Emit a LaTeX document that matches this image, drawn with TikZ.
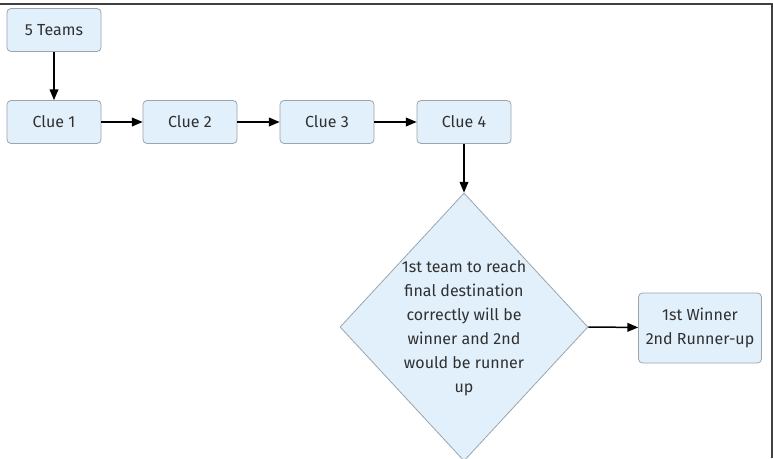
\documentclass[tikz,border=0pt]{standalone}
\usepackage{fontspec}
\setmainfont{Fira Sans}
\usepackage{tikz}
\usetikzlibrary{arrows,shapes.geometric}
\definecolor{boxfill}{HTML}{E2F0FB}
\definecolor{boxline}{HTML}{9AA5AE}
\definecolor{textgrey}{HTML}{303030}
\begin{document}
\begin{tikzpicture}[x=1pt,y=-1pt]
        \tikzset{box/.style = {shape=rectangle,rounded corners=4pt,draw=boxline,fill=boxfill,thick,
                 minimum width=94pt,minimum height=43pt,text=textgrey,font=\fontsize{16}{18}\selectfont}}
        \tikzset{decision/.style = {shape=diamond,draw=boxline,fill=boxfill,thick,inner sep=0pt,
                 minimum width=248pt,minimum height=268pt}}
        \tikzset{edge/.style = {line width=1.5pt,-triangle 45}}
        \useasboundingbox (0,0) rectangle (773,458);
        \clip (0,0) rectangle (773,458);
        % frame
        \draw[line width=2pt,black!75] (0,3.5) -- (772,3.5) -- (772,458);
        % vertices
        \node[box] (teams) at (54,30) {5 Teams};
        \node[box] (c1) at (54,122) {Clue 1};
        \node[box] (c2) at (190,122) {Clue 2};
        \node[box] (c3) at (327,122) {Clue 3};
        \node[box] (c4) at (464,122) {Clue 4};
        \node[decision] (dec) at (464,327) {};
        \node[align=center,text=textgrey,font=\fontsize{16}{24}\selectfont] (rule) at (464,328)
             {1st team to reach\\final destination\\correctly will be\\winner and 2nd\\would be runner\\up};
        \node[box,minimum width=123pt,minimum height=70pt,align=center,font=\fontsize{16}{24}\selectfont] (win) at (700,328)
             {1st Winner\\2nd Runner-up};
        %edges
        \draw[edge] (teams) to (c1);
        \draw[edge] (c1) to (c2);
        \draw[edge] (c2) to (c3);
        \draw[edge] (c3) to (c4);
        \draw[edge] (c4) to (dec.north);
        \draw[edge] (dec.east) to (win);
\end{tikzpicture}
\end{document}
